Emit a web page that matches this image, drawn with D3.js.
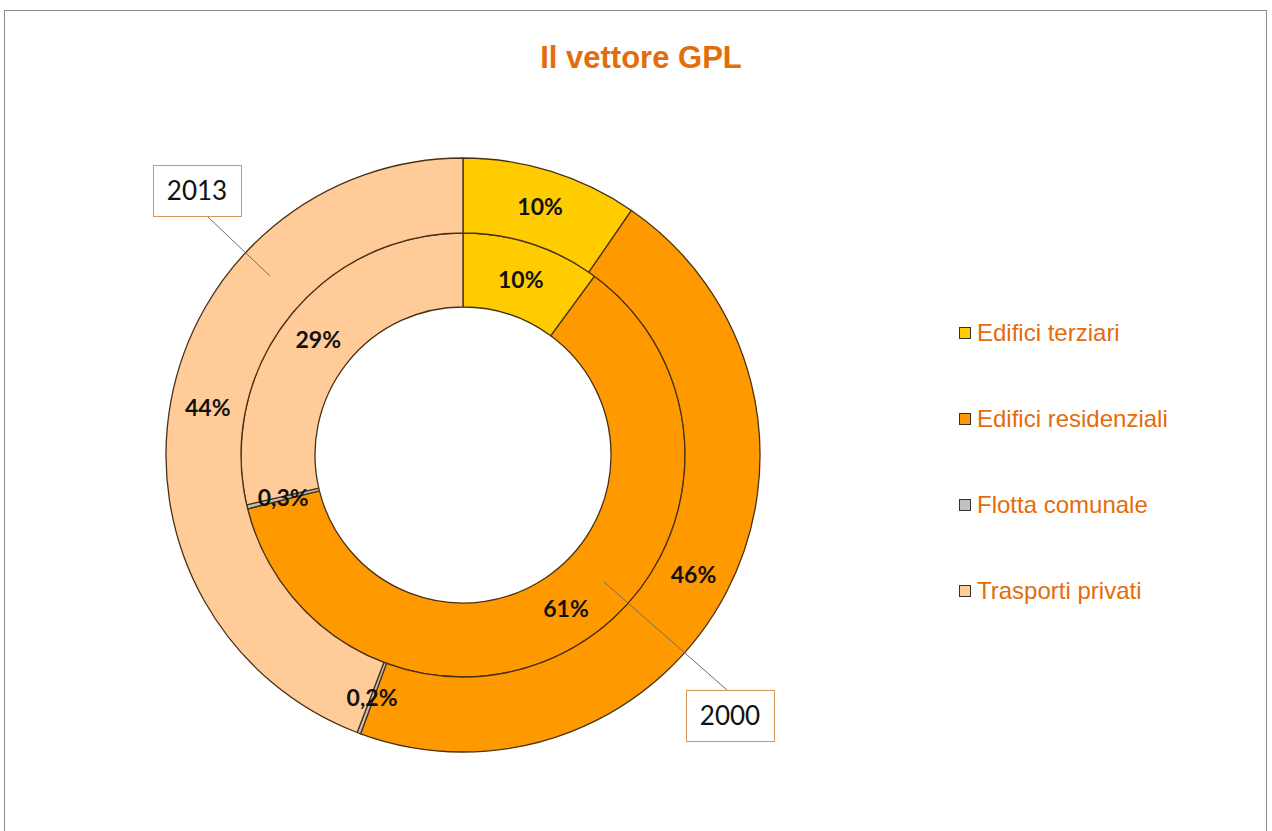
<!DOCTYPE html>
<html>
<head>
<meta charset="utf-8">
<script src="https://cdn.jsdelivr.net/npm/d3@7"></script>
<style>
  body { margin: 0; background: #fff; }
  svg { display: block; }
</style>
</head>
<body>
<svg id="chart" width="1272" height="831"></svg>
<script>
// categories and series (percent of GPL consumption)
var categories = ["Edifici terziari", "Edifici residenziali", "Flotta comunale", "Trasporti privati"];
var colors = ["#FFCC00", "#FF9900", "#C0C0C0", "#FFCC99"];
var values2000 = [10.1, 61.0, 0.3, 28.6];   // inner ring
var values2013 = [9.6, 46.0, 0.2, 44.2];    // outer ring
var title = "Il vettore GPL";

var svg = d3.select("#chart");
var cx = 463, cy = 455;
var rInner = 148, rMid = 222, rOuter = 297;

// frame
svg.append("rect")
  .attr("x", 4.5).attr("y", 10.5)
  .attr("width", 1262).attr("height", 840)
  .attr("fill", "none")
  .attr("stroke", "#8c8c8c")
  .attr("stroke-width", 1);

svg.append("text")
  .attr("x", 641).attr("y", 68)
  .attr("text-anchor", "middle")
  .style("font-family", "'Liberation Sans', Arial, sans-serif")
  .style("font-weight", "bold")
  .style("font-size", "31px")
  .style("fill", "#E46C0A")
  .text(title);

var color = d3.scaleOrdinal().domain(categories).range(colors);
var locale = d3.formatLocale({decimal: ",", thousands: ".", grouping: [3], currency: ["", "€"]});
function fmtPct(v) {
  return v < 1 ? locale.format(".1f")(v) + "%" : locale.format(".0f")(v) + "%";
}

var pie = d3.pie().sort(null).value(function(d) { return d.value; });

var chart = svg.append("g").attr("transform", "translate(" + cx + "," + cy + ")");

function drawRing(values, r0, r1) {
  var data = categories.map(function(c, i) { return {label: c, value: values[i]}; });
  var arc = d3.arc().innerRadius(r0).outerRadius(r1);
  var g = chart.append("g");
  var arcs = pie(data);
  g.selectAll("path")
    .data(arcs)
    .enter().append("path")
    .attr("d", arc)
    .attr("fill", function(d) { return color(d.data.label); })
    .attr("stroke", "#4a3015")
    .attr("stroke-width", 1.3)
    .attr("stroke-linejoin", "round");
  g.selectAll("text")
    .data(arcs)
    .enter().append("text")
    .attr("transform", function(d) { return "translate(" + arc.centroid(d) + ")"; })
    .attr("text-anchor", "middle")
    .attr("dy", "0.36em")
    .style("font-family", "Lato, 'Open Sans', sans-serif")
    .style("font-weight", "bold")
    .style("font-size", "23px")
    .style("fill", "#111")
    .text(function(d) { return fmtPct(d.data.value); });
  return arc;
}

drawRing(values2000, rInner, rMid);
drawRing(values2013, rMid, rOuter);

// series labels with leader lines
function seriesLabel(txt, bx, by, lx1, ly1, lx2, ly2) {
  svg.append("line")
    .attr("x1", lx1).attr("y1", ly1).attr("x2", lx2).attr("y2", ly2)
    .attr("stroke", "#6e6e6e").attr("stroke-width", 1);
  svg.append("rect")
    .attr("x", bx + 0.5).attr("y", by + 0.5)
    .attr("width", 88).attr("height", 51)
    .attr("fill", "#fff")
    .attr("stroke", "#D9955A")
    .attr("stroke-width", 1);
  svg.append("text")
    .attr("x", bx + 44).attr("y", by + 35)
    .attr("text-anchor", "middle")
    .style("font-family", "Lato, 'Open Sans', sans-serif")
    .style("font-size", "26px")
    .style("fill", "#111")
    .text(txt);
}
seriesLabel("2013", 153, 165, 208, 217, 270, 276);
seriesLabel("2000", 686, 690, 604, 582, 727, 690);

// legend
var legend = svg.selectAll(".legend")
  .data(categories)
  .enter().append("g")
  .attr("class", "legend")
  .attr("transform", function(d, i) { return "translate(959," + (333 + i * 86) + ")"; });
legend.append("rect")
  .attr("x", 0.5).attr("y", -5.5)
  .attr("width", 11).attr("height", 11)
  .attr("fill", function(d) { return color(d); })
  .attr("stroke", "#333")
  .attr("stroke-width", 1);
legend.append("text")
  .attr("x", 18).attr("y", 8)
  .style("font-family", "'Liberation Sans', Arial, sans-serif")
  .style("font-size", "24px")
  .style("fill", "#E46C0A")
  .text(function(d) { return d; });
</script>
</body>
</html>
